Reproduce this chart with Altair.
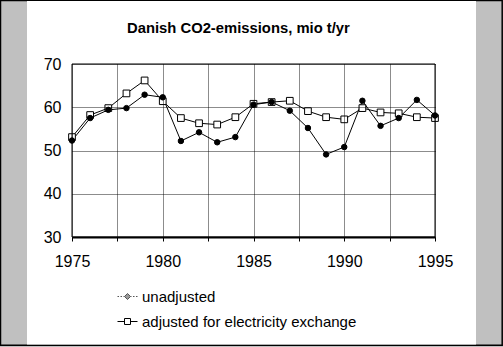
import altair as alt
import pandas as pd

years = list(range(1975, 1996))
unadjusted = [52.3, 57.5, 59.4, 59.8, 62.9, 62.3, 52.2, 54.2, 51.9, 53.1, 60.6,
              61.2, 59.2, 55.2, 49.1, 50.8, 61.5, 55.7, 57.5, 61.7, 58.1]
adjusted = [53.1, 58.2, 59.8, 63.2, 66.2, 61.4, 57.5, 56.3, 56.0, 57.7, 60.8,
            61.2, 61.5, 59.1, 57.7, 57.2, 59.8, 58.8, 58.6, 57.7, 57.5]
series_names = ["unadjusted", "adjusted for electricity exchange"]
title_text = "Danish CO2-emissions, mio t/yr"
x_grid = [1975 + 2.5 * i for i in range(9)]
y_grid = [30 + 5 * i for i in range(9)]

rows = []
for i, yr in enumerate(years):
    rows.append({"year": yr, "value": unadjusted[i], "series": series_names[0]})
    rows.append({"year": yr, "value": adjusted[i], "series": series_names[1]})
df = pd.DataFrame(rows)

W, H = 363, 173
FONT = "Liberation Sans"

xs = alt.Scale(domain=[1975, 1995], nice=False, zero=False)
ys = alt.Scale(domain=[30, 70], nice=False, zero=False)

xaxis = alt.Axis(values=x_grid, labelExpr="datum.value % 5 == 0 ? datum.label : ''",
                 format="d", title=None, grid=True, gridColor="black", gridDash=[1, 1],
                 gridOpacity=0.9, domainColor="black", domainWidth=2, tickColor="black",
                 tickSize=4, labelFontSize=16, labelFont=FONT, labelColor="black",
                 labelPadding=12, labelFlush=False, zindex=1)
yaxis = alt.Axis(values=y_grid, labelExpr="datum.value % 10 == 0 ? datum.label : ''",
                 title=None, grid=True, gridColor="black", gridDash=[1, 1],
                 gridOpacity=0.9, domain=False, ticks=False, labelFontSize=16,
                 labelFont=FONT, labelColor="black", labelPadding=11, zindex=1)

one = alt.Data(values=[{"a": 1}])

frame = alt.Chart(one).mark_rect(fill="#c0c0c0", stroke="black", strokeWidth=1.5).encode(
    x=alt.value(-71.5), x2=alt.value(430.2), y=alt.value(-63.5), y2=alt.value(281.3))
white = alt.Chart(one).mark_rect(fill="white").encode(
    x=alt.value(-45), x2=alt.value(404), y=alt.value(-63), y2=alt.value(280.5))
border = alt.Chart(one).mark_rect(fill=None, stroke="black", strokeWidth=1).encode(
    x=alt.value(0), x2=alt.value(W), y=alt.value(0), y2=alt.value(H))

base = alt.Chart(df)

lines = base.mark_line(color="black", strokeWidth=1).encode(
    x=alt.X("year:Q", scale=xs, axis=xaxis),
    y=alt.Y("value:Q", scale=ys, axis=yaxis),
    detail="series:N",
)

pts_adj = base.transform_filter(alt.datum.series == series_names[1]).mark_point(
    shape="square", filled=True, fill="white", stroke="black", strokeWidth=1,
    size=45, opacity=1).encode(x=alt.X("year:Q", scale=xs), y=alt.Y("value:Q", scale=ys))

pts_un = base.transform_filter(alt.datum.series == series_names[0]).mark_point(
    shape="circle", filled=True, fill="black", stroke="black", strokeWidth=1,
    size=30, opacity=1).encode(x=alt.X("year:Q", scale=xs), y=alt.Y("value:Q", scale=ys))

path_un = "M-1,0H-0.85M-0.7,0H-0.55M-0.4,0H-0.3L0,-0.3L0.3,0L0,0.3L-0.3,0M0.3,0H0.4M0.55,0H0.7M0.85,0H1"
path_adj = "M-1,0H-0.3M0.3,0H1M-0.3,-0.3H0.3V0.3H-0.3Z"

legend_layer = base.mark_point(filled=True, opacity=0, strokeWidth=1).encode(
    x=alt.X("year:Q", scale=xs),
    y=alt.Y("value:Q", scale=ys),
    shape=alt.Shape("series:N", title=None,
                    scale=alt.Scale(domain=series_names, range=[path_un, path_adj]),
                    legend=alt.Legend(orient="none", legendX=45, legendY=222,
                                      direction="vertical", symbolSize=400,
                                      symbolOpacity=1, symbolStrokeWidth=1,
                                      labelFontSize=15, labelFont=FONT,
                                      labelColor="black", labelOffset=4, rowPadding=6,
                                      padding=0, labelLimit=400)),
    fill=alt.Fill("series:N", title=None,
                  scale=alt.Scale(domain=series_names, range=["#999999", "white"])),
    stroke=alt.Stroke("series:N", title=None,
                      scale=alt.Scale(domain=series_names, range=["#555555", "black"])),
)

chart = alt.layer(frame, white, lines, pts_adj, pts_un, legend_layer, border).properties(
    width=W, height=H,
    title=alt.TitleParams(title_text, fontSize=14.8, fontWeight="bold", font=FONT,
                          anchor="start", frame="group", dx=55, offset=-48.5,
                          baseline="alphabetic", color="black"),
    background="#c0c0c0",
    padding={"left": 72, "top": 64, "right": 68, "bottom": 110},
    autosize=alt.AutoSizeParams(type="none"),
).configure_view(stroke="black", strokeWidth=1, fill="white")

chart.save("out.html", embed_options={"renderer": "svg", "actions": False})
